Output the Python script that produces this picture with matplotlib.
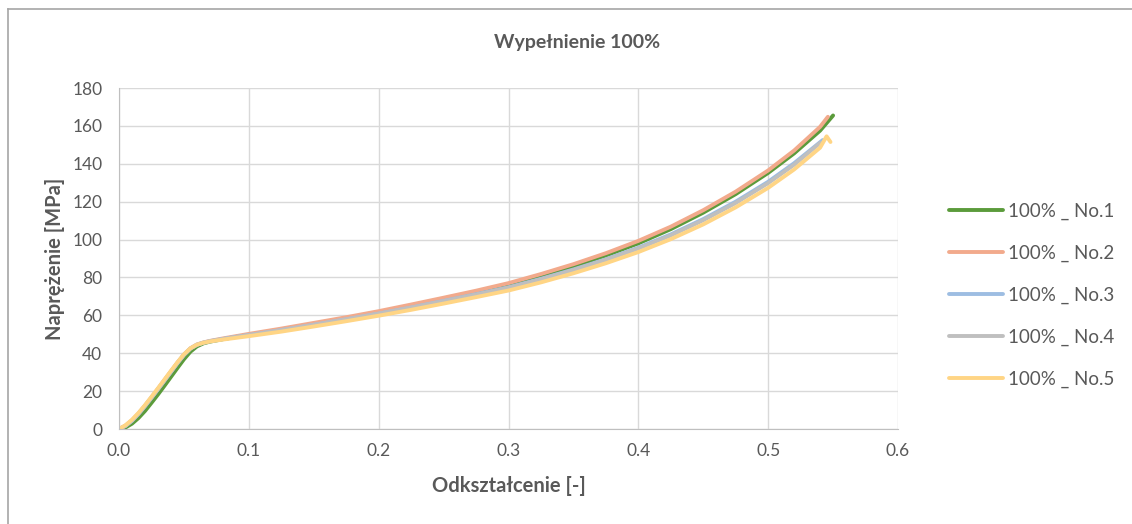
import matplotlib.pyplot as plt
from matplotlib.lines import Line2D

plt.rcParams['font.family'] = ['Lato', 'DejaVu Sans']

# strain [-] / stress [MPa]
x1 = [0, 0.005, 0.01, 0.015, 0.02, 0.025, 0.03, 0.035, 0.04, 0.045, 0.05, 0.055, 0.06, 0.065, 0.07, 0.08, 0.09, 0.1,
      0.125, 0.15, 0.175, 0.2, 0.225, 0.25, 0.275, 0.3, 0.325, 0.35, 0.375, 0.4, 0.425, 0.45, 0.475, 0.5, 0.52, 0.54, 0.55]
y1 = [0, 0.8, 2.8, 5.8, 9.5, 13.8, 18.2, 22.8, 27.5, 32.2, 36.8, 40.8, 43.6, 45.2, 46.1, 47.4, 48.6, 49.7,
      52.4, 55.3, 58.3, 61.5, 64.9, 68.5, 72.2, 76.0, 80.8, 85.9, 91.6, 98.0, 105.5, 114.2, 124.0, 135.2, 145.5, 157.5, 165.5]

x2 = [0, 0.005, 0.01, 0.015, 0.02, 0.025, 0.03, 0.035, 0.04, 0.045, 0.05, 0.055, 0.06, 0.065, 0.07, 0.08, 0.09, 0.1,
      0.125, 0.15, 0.175, 0.2, 0.225, 0.25, 0.275, 0.3, 0.325, 0.35, 0.375, 0.4, 0.425, 0.45, 0.475, 0.5, 0.52, 0.54, 0.546]
y2 = [0, 1.8, 4.6, 8.2, 12.3, 16.7, 21.2, 25.8, 30.4, 35.0, 39.3, 42.6, 44.6, 45.7, 46.5, 47.8, 49.0, 50.2,
      53.0, 56.0, 59.0, 62.2, 65.7, 69.3, 73.0, 77.0, 81.8, 87.0, 92.8, 99.3, 106.8, 115.5, 125.3, 136.5, 147.0, 159.5, 164.8]

x3 = [0, 0.005, 0.01, 0.015, 0.02, 0.025, 0.03, 0.035, 0.04, 0.045, 0.05, 0.055, 0.06, 0.065, 0.07, 0.08, 0.09, 0.1,
      0.125, 0.15, 0.175, 0.2, 0.225, 0.25, 0.275, 0.3, 0.325, 0.35, 0.375, 0.4, 0.425, 0.45, 0.475, 0.5, 0.52, 0.542]
y3 = [0, 1.6, 4.3, 7.9, 12.0, 16.4, 20.9, 25.5, 30.1, 34.7, 39.0, 42.4, 44.4, 45.5, 46.3, 47.5, 48.6, 49.6,
      52.2, 55.0, 57.9, 60.9, 64.1, 67.6, 71.1, 74.8, 79.3, 84.2, 89.6, 95.7, 102.7, 110.8, 120.0, 130.5, 140.3, 152.5]

x4 = [0, 0.005, 0.01, 0.015, 0.02, 0.025, 0.03, 0.035, 0.04, 0.045, 0.05, 0.055, 0.06, 0.065, 0.07, 0.08, 0.09, 0.1,
      0.125, 0.15, 0.175, 0.2, 0.225, 0.25, 0.275, 0.3, 0.325, 0.35, 0.375, 0.4, 0.425, 0.45, 0.475, 0.5, 0.52, 0.54]
y4 = [0, 1.7, 4.5, 8.1, 12.2, 16.6, 21.1, 25.7, 30.3, 34.9, 39.2, 42.5, 44.5, 45.6, 46.4, 47.5, 48.6, 49.6,
      52.2, 55.0, 57.9, 60.9, 64.1, 67.5, 71.0, 74.6, 79.0, 83.9, 89.3, 95.3, 102.2, 110.2, 119.3, 129.8, 139.5, 151.0]

x5 = [0, 0.005, 0.01, 0.015, 0.02, 0.025, 0.03, 0.035, 0.04, 0.045, 0.05, 0.055, 0.06, 0.065, 0.07, 0.08, 0.09, 0.1,
      0.125, 0.15, 0.175, 0.2, 0.225, 0.25, 0.275, 0.3, 0.325, 0.35, 0.375, 0.4, 0.425, 0.45, 0.475, 0.5, 0.52, 0.54, 0.545, 0.548]
y5 = [0, 2.0, 4.9, 8.5, 12.6, 17.0, 21.5, 26.1, 30.7, 35.2, 39.4, 42.6, 44.5, 45.5, 46.2, 47.2, 48.1, 49.0,
      51.4, 54.1, 56.9, 59.8, 62.9, 66.2, 69.6, 73.1, 77.4, 82.2, 87.5, 93.4, 100.2, 108.0, 117.0, 127.3, 137.0, 148.5, 154.5, 151.5]

labels = ['100% _ No.1', '100% _ No.2', '100% _ No.3', '100% _ No.4', '100% _ No.5']
colors = ['#5B9B3B', '#F2AA8C', '#9DBDE2', '#BFBFBF', '#FFD585']

fig = plt.figure(figsize=(11.32, 5.24), dpi=100)
ax = fig.add_axes([119 / 1132, 1 - 429 / 524, 779 / 1132, 341 / 524])

series = [(x1, y1), (x2, y2), (x3, y3), (x4, y4), (x5, y5)]
for (xs, ys), lab, c in zip(series, labels, colors):
    ax.plot(xs, ys, color=c, lw=2.8, label=lab, solid_capstyle='round', solid_joinstyle='round')

ax.set_xlim(0, 0.6)
ax.set_ylim(0, 180)
ax.set_xticks([0, 0.1, 0.2, 0.3, 0.4, 0.5, 0.6])
ax.set_xticklabels(['0.0', '0.1', '0.2', '0.3', '0.4', '0.5', '0.6'])
ax.set_yticks(range(0, 181, 20))
ax.grid(True, color='#D9D9D9', lw=1)
ax.set_axisbelow(True)
for s in ['top', 'right']:
    ax.spines[s].set_visible(False)
for s in ['left', 'bottom']:
    ax.spines[s].set_color('#BFBFBF')
ax.tick_params(length=0, labelsize=12.5, colors='#595959')
ax.tick_params(axis='x', pad=10)
ax.tick_params(axis='y', pad=12)

ax.set_xlabel('Odkształcenie [-]', fontsize=14.5, fontweight='bold', color='#595959', labelpad=12)
ax.set_ylabel('Naprężenie [MPa]', fontsize=14.5, fontweight='bold', color='#595959', labelpad=5)
fig.text(577 / 1132, 1 - 43 / 524, 'Wypełnienie 100%', ha='center', va='center',
         fontsize=14, fontweight='bold', color='#595959')

fig.legend(loc='center left', bbox_to_anchor=(949 / 1132, 1 - 295 / 524), frameon=False,
           fontsize=13.5, handlelength=2.9, handletextpad=0.27, labelspacing=1.32,
           borderpad=0, borderaxespad=0, labelcolor='#595959')

# chart area border (left and top edges visible)
fig.add_artist(Line2D([7.5 / 1132, 7.5 / 1132], [0, 1 - 8.5 / 524], color='#A6A6A6', lw=1.2))
fig.add_artist(Line2D([7.5 / 1132, 1], [1 - 8.5 / 524, 1 - 8.5 / 524], color='#A6A6A6', lw=1.2))

fig.savefig('out.png', dpi=100, facecolor='white')
